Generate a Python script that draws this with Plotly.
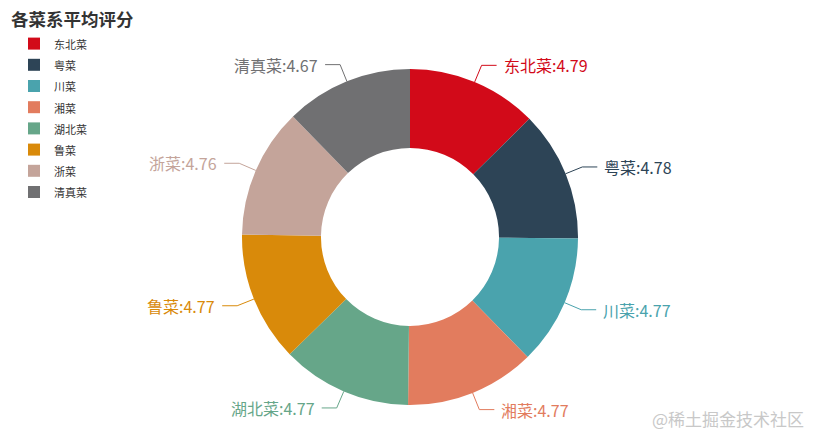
import numpy as np
import plotly.graph_objects as go

# 数据
cuisines = ["东北菜", "粤菜", "川菜", "湘菜", "湖北菜", "鲁菜", "浙菜", "清真菜"]
scores = [4.79, 4.78, 4.77, 4.77, 4.77, 4.77, 4.76, 4.67]
colors = ["#d20a19", "#2d4456", "#4aa3ad", "#e27c5e", "#66a689", "#d98a0a", "#c4a49a", "#707072"]

W, H = 821, 446
cx, cy, r = 410, 237, 168   # pie centre / radius in pixels
FONT = "Noto Sans CJK SC, Noto Sans, sans-serif"

# smaller legend text, legend row height still taken from the legend font size
legend_names = [f"<span style='font-size:11px'>{c}</span>" for c in cuisines]

fig = go.Figure(go.Pie(
    labels=legend_names, values=scores,
    marker=dict(colors=colors, line=dict(width=0)),
    hole=0.53, sort=False, direction="clockwise", rotation=0,
    textinfo="none", hoverinfo="skip",
    domain=dict(x=[(cx - r) / W, (cx + r) / W], y=[1 - (cy + r) / H, 1 - (cy - r) / H]),
))

# labels with leader lines (echarts style), angles from the data
total = sum(scores)
cum = np.cumsum([0] + scores[:-1])
L1, L2, gap = 18, 15, 5
px = lambda x: x / W
py = lambda y: 1 - y / H
shapes, annos = [], []
for name, v, c0, col in zip(cuisines, scores, cum, colors):
    th = 2 * np.pi * (c0 + v / 2) / total
    s, c = np.sin(th), np.cos(th)
    x0, y0 = cx + r * s, cy - r * c
    x1, y1 = cx + (r + L1) * s, cy - (r + L1) * c
    side = 1 if s >= 0 else -1
    x2 = x1 + side * L2
    shapes.append(dict(type="path", xref="paper", yref="paper",
                       path=f"M{px(x0)},{py(y0)} L{px(x1)},{py(y1)} L{px(x2)},{py(y1)}",
                       line=dict(color=col, width=1)))
    annos.append(dict(x=px(x2 + side * gap), y=py(y1), xref="paper", yref="paper",
                      text=f"{name}:{v}", showarrow=False,
                      xanchor="left" if side > 0 else "right", yanchor="middle",
                      font=dict(size=16, color=col, family=FONT)))

annos.append(dict(x=px(806), y=py(418), xref="paper", yref="paper",
                  text="@稀土掘金技术社区", showarrow=False, xanchor="right", yanchor="middle",
                  font=dict(size=17, color="#c8c8c8", family=FONT)))

fig.update_layout(
    width=W, height=H,
    margin=dict(l=0, r=0, t=0, b=0),
    paper_bgcolor="white", plot_bgcolor="white",
    font=dict(family=FONT, color="#333"),
    title=dict(text="<b>各菜系平均评分</b>", x=px(11), y=py(20),
               xanchor="left", yanchor="middle", font=dict(size=17.5, color="#333")),
    legend=dict(x=px(14), y=py(28), xanchor="left", yanchor="top",
                font=dict(size=14, color="#333"), itemwidth=30),
    shapes=shapes, annotations=annos,
)

fig.write_html("out.html", post_script="document.body.style.margin='0';",
               config={"displayModeBar": False})
